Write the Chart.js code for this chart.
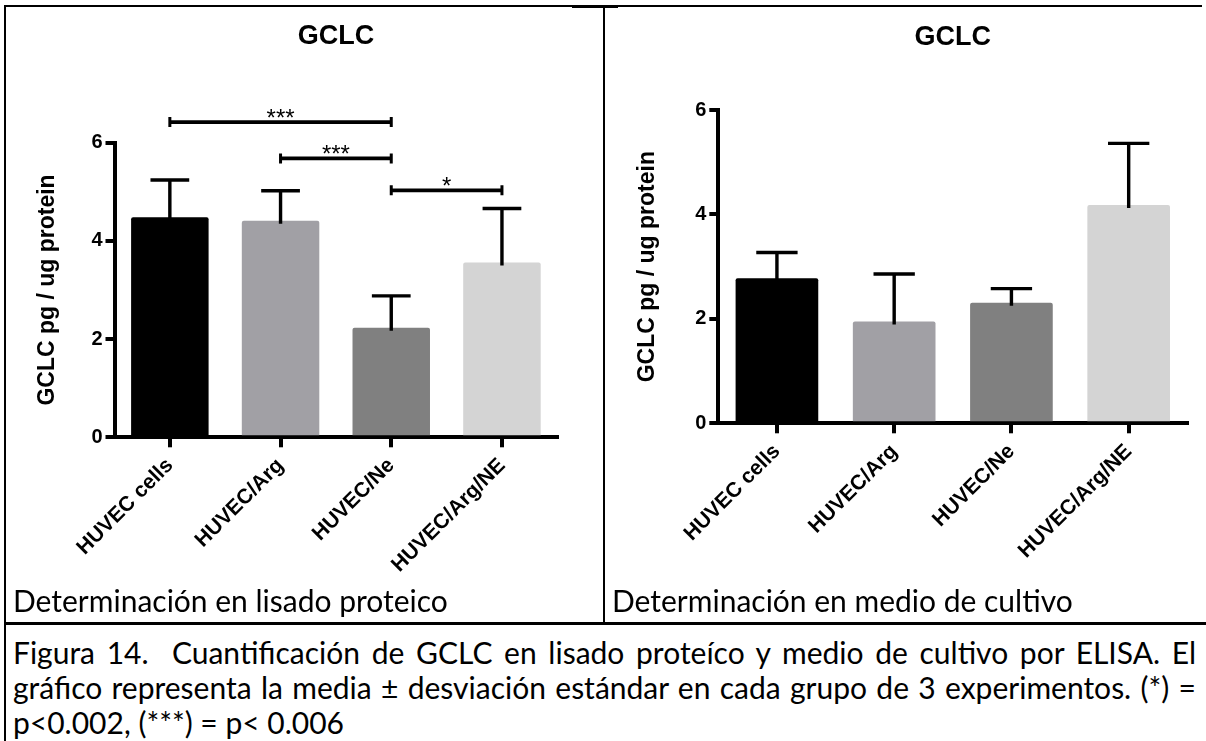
<!DOCTYPE html>
<html><head><meta charset="utf-8">
<script src="https://cdn.jsdelivr.net/npm/chart.js@4.4.1/dist/chart.umd.min.js"></script>
<style>
html,body{margin:0;padding:0;background:#fff;}
#page{position:relative;width:1206px;height:741px;overflow:hidden;background:#fff;}
.ln{position:absolute;background:#000;}
canvas{position:absolute;}
.txt{position:absolute;font-family:Lato,'Open Sans',sans-serif;color:#000;white-space:pre;line-height:1;}
.bl{display:inline-block;width:0;height:0;vertical-align:baseline;}
</style></head><body>
<div id="page">
  <canvas id="c1" width="600" height="600" style="left:0;top:0"></canvas>
  <canvas id="c2" width="606" height="600" style="left:600px;top:0"></canvas>
  <div class="ln" style="left:4px;top:5px;width:1198px;height:2px"></div>
  <div class="ln" style="left:572px;top:5px;width:46px;height:3px"></div>
  <div class="ln" style="left:4px;top:5px;width:2px;height:736px"></div>
  <div class="ln" style="left:603px;top:5px;width:2px;height:619px"></div>
  <div class="ln" style="left:4px;top:622px;width:1202px;height:3px"></div>
  <div id="sub1" class="txt"></div>
  <div id="sub2" class="txt"></div>
  <div id="cap0" class="txt"></div>
  <div id="cap1" class="txt"></div>
  <div id="cap2" class="txt"></div>
</div>
<script>
// ---- data ----
const categories = ['HUVEC cells', 'HUVEC/Arg', 'HUVEC/Ne', 'HUVEC/Arg/NE'];
const barColors = ['#000000', '#a1a0a5', '#808080', '#d4d4d4'];
const lysateMean = [4.48, 4.41, 2.23, 3.56];
const lysateSD = [0.76, 0.61, 0.65, 1.10];
const mediumMean = [2.78, 1.95, 2.31, 4.18];
const mediumSD = [0.49, 0.91, 0.27, 1.18];
const yTicks = [0, 2, 4, 6];
const bracketFrom = [0, 1, 2];
const bracketTo = [2, 2, 3];
const bracketLevel = [6.42, 5.68, 5.03];
const bracketLabel = ['***', '***', '*'];
const chartTitle = 'GCLC';
const yAxisTitle = 'GCLC pg / ug protein';
const subtitleLeft = 'Determinación en lisado proteico';
const subtitleRight = 'Determinación en medio de cultivo';
const captionLines = [
  'Figura 14.  Cuantificación de GCLC en lisado proteíco y medio de cultivo por ELISA. El',
  'gráfico representa la media ± desviación estándar en cada grupo de 3 experimentos. (*) =',
  'p<0.002, (***) = p< 0.006'
];

Chart.defaults.font.family = "'Liberation Sans', Arial, sans-serif";
Chart.defaults.color = '#000';

function annotPlugin(means, sds, withBrackets) {
  return {
    id: 'annot',
    afterDatasetsDraw(chart) {
      const ctx = chart.ctx, ys = chart.scales.y, xs = chart.scales.x;
      const meta = chart.getDatasetMeta(0);
      ctx.save();
      ctx.strokeStyle = '#000';
      ctx.lineCap = 'butt';
      ctx.lineWidth = 3.4;
      means.forEach((m, i) => {
        const bar = meta.data[i];
        const cx = bar.x, hw = bar.width / 4;
        const y0 = ys.getPixelForValue(m), y1 = ys.getPixelForValue(m + sds[i]);
        ctx.beginPath();
        ctx.moveTo(cx, y0 + 3); ctx.lineTo(cx, y1);
        ctx.moveTo(cx - hw, y1); ctx.lineTo(cx + hw, y1);
        ctx.stroke();
      });
      if (withBrackets) {
        ctx.fillStyle = '#000';
        ctx.textAlign = 'center';
        ctx.textBaseline = 'alphabetic';
        ctx.font = "24px 'Liberation Sans', Arial, sans-serif";
        bracketFrom.forEach((f, k) => {
          const xa = xs.getPixelForValue(f), xb = xs.getPixelForValue(bracketTo[k]);
          const yy = ys.getPixelForValue(bracketLevel[k]);
          ctx.lineWidth = 3.6;
          ctx.beginPath();
          ctx.moveTo(xa, yy); ctx.lineTo(xb, yy);
          ctx.stroke();
          ctx.lineWidth = 3;
          ctx.beginPath();
          ctx.moveTo(xa, yy - 5); ctx.lineTo(xa, yy + 5);
          ctx.moveTo(xb, yy - 5); ctx.lineTo(xb, yy + 5);
          ctx.stroke();
          ctx.fillText(bracketLabel[k], (xa + xb) / 2, yy + 4);
        });
      }
      ctx.restore();
    }
  };
}

function makeChart(id, means, sds, L, withBrackets) {
  const cv = document.getElementById(id);
  const W = cv.width, H = cv.height;
  const titleSize = 27, titleLH = titleSize * 1.2;
  const yTitleSize = 23, yTitleLH = yTitleSize * 1.2;
  return new Chart(cv, {
    type: 'bar',
    data: {
      labels: categories,
      datasets: [{
        data: means, backgroundColor: barColors, borderWidth: 0, borderRadius: 2,
        barPercentage: L.barPct, categoryPercentage: 1
      }]
    },
    options: {
      responsive: false, animation: false, devicePixelRatio: 1,
      layout: { padding: { left: 0, top: 0, right: W - L.right, bottom: 0 } },
      plugins: {
        legend: { display: false },
        tooltip: { enabled: false },
        title: {
          display: true, text: chartTitle, fullSize: false, color: '#000',
          font: { size: titleSize, weight: 'bold' },
          padding: { top: L.titleY - titleLH / 2, bottom: L.top - L.titleY - titleLH / 2 }
        }
      },
      scales: {
        x: {
          offset: true,
          ticks: { color: '#000', font: { size: 21, weight: 'bold' }, minRotation: 45, maxRotation: 45, autoSkip: false, padding: 6 },
          grid: { offset: false, drawOnChartArea: false, drawTicks: true, tickLength: 10, lineWidth: 4, color: '#000' },
          border: { display: true, width: 4, color: '#000' },
          afterFit: s => { s.height = H - L.bottom; }
        },
        y: {
          min: yTicks[0], max: yTicks[yTicks.length - 1],
          afterBuildTicks: s => { s.ticks = yTicks.map(v => ({ value: v })); },
          ticks: { color: '#000', font: { size: 20, weight: 'bold' }, padding: 3 },
          grid: { drawOnChartArea: false, drawTicks: true, tickLength: 9, lineWidth: 4, color: '#000' },
          border: { display: true, width: 4, color: '#000' },
          title: {
            display: true, text: yAxisTitle, color: '#000',
            font: { size: yTitleSize, weight: 'bold' },
            padding: { top: L.yTitleX - yTitleLH / 2, bottom: 0 }
          },
          afterFit: s => { s.width = L.left; }
        }
      }
    },
    plugins: [annotPlugin(means, sds, withBrackets)]
  });
}

makeChart('c1', lysateMean, lysateSD,
  { left: 114.5, right: 557.3, top: 142.7, bottom: 437.3, titleY: 37, yTitleX: 48, barPct: 0.70 }, true);
makeChart('c2', mediumMean, mediumSD,
  { left: 118.3, right: 587.3, top: 110, bottom: 423.3, titleY: 38, yTitleX: 48, barPct: 0.705 }, false);

// ---- text below the charts ----
function setText(id, text) {
  const el = document.getElementById(id);
  el.innerHTML = '';
  const sp = document.createElement('span');
  sp.textContent = text;
  const b = document.createElement('span');
  b.className = 'bl';
  el.appendChild(sp); el.appendChild(b);
  return { el, sp, b };
}
function place(o, x, baseline) {
  o.el.style.left = x + 'px';
  o.el.style.top = '0px';
  const off = o.b.offsetTop;
  o.el.style.top = (baseline - off) + 'px';
}
const s1 = setText('sub1', subtitleLeft);
s1.el.style.fontSize = '32px';
const w32 = s1.sp.getBoundingClientRect().width;
const fs = 32 * 435 / w32;
const s2 = setText('sub2', subtitleRight);
[s1, s2].forEach(o => o.el.style.fontSize = fs + 'px');
place(s1, 13, 612);
place(s2, 612, 612);
const capBase = [664, 699, 734];
captionLines.forEach((t, i) => {
  const o = setText('cap' + i, t);
  o.el.style.fontSize = fs + 'px';
  if (i < 2) {
    const w = o.sp.getBoundingClientRect().width;
    const n = (t.match(/ /g) || []).length;
    o.el.style.wordSpacing = ((1183 - w) / n) + 'px';
  }
  place(o, 13, capBase[i]);
});
</script>
</body></html>
